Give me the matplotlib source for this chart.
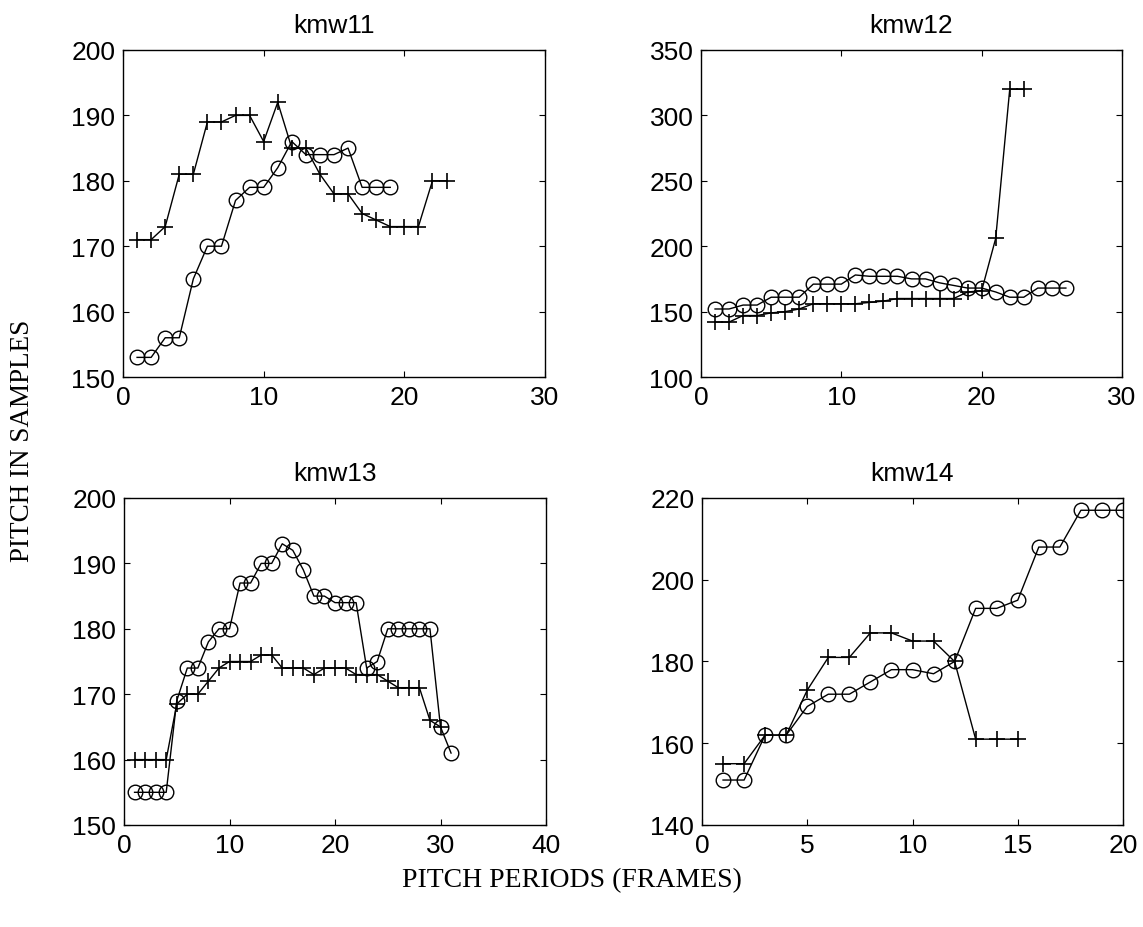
import matplotlib
matplotlib.use("Agg")
import matplotlib.pyplot as plt

# ---- data ----
titles = ["kmw11", "kmw12", "kmw13", "kmw14"]

kmw11_plus = [171, 171, 173, 181, 181, 189, 189, 190, 190, 186, 192, 185, 185,
              181, 178, 178, 175, 174, 173, 173, 173, 180, 180]
kmw11_circ = [153, 153, 156, 156, 165, 170, 170, 177, 179, 179, 182, 186, 184,
              184, 184, 185, 179, 179, 179]

kmw12_plus = [142, 142, 147, 147, 149, 150, 152, 156, 156, 156, 156, 157, 158,
              160, 160, 160, 160, 160, 165, 166, 206, 320, 320]
kmw12_circ = [152, 152, 155, 155, 161, 161, 161, 171, 171, 171, 178, 177, 177,
              177, 175, 175, 172, 170, 168, 168, 165, 161, 161, 168, 168, 168]

kmw13_plus = [160, 160, 160, 160, 168.5, 170, 170, 172, 174, 175, 175, 175, 176,
              176, 174, 174, 174, 173, 174, 174, 174, 173, 173, 173, 172, 171,
              171, 171, 166, 165]
kmw13_circ = [155, 155, 155, 155, 169, 174, 174, 178, 180, 180, 187, 187, 190,
              190, 193, 192, 189, 185, 185, 184, 184, 184, 174, 175, 180, 180,
              180, 180, 180, 165, 161]

kmw14_plus = [155, 155, 162, 162, 173, 181, 181, 187, 187, 185, 185, 180, 161,
              161, 161]
kmw14_circ = [151, 151, 162, 162, 169, 172, 172, 175, 178, 178, 177, 180, 193,
              193, 195, 208, 208, 217, 217, 217]

plus_series = [kmw11_plus, kmw12_plus, kmw13_plus, kmw14_plus]
circ_series = [kmw11_circ, kmw12_circ, kmw13_circ, kmw14_circ]

xlims = [(0, 30), (0, 30), (0, 40), (0, 20)]
xticks = [[0, 10, 20, 30], [0, 10, 20, 30], [0, 10, 20, 30, 40], [0, 5, 10, 15, 20]]
ylims = [(150, 200), (100, 350), (150, 200), (140, 220)]
yticks = [[150, 160, 170, 180, 190, 200], [100, 150, 200, 250, 300, 350],
          [150, 160, 170, 180, 190, 200], [140, 160, 180, 200, 220]]

ylabel = "PITCH IN SAMPLES"
xlabel = "PITCH PERIODS (FRAMES)"

# ---- figure ----
W, H = 1143, 928
fig = plt.figure(figsize=(W / 100, H / 100), dpi=100)

boxes = [(123, 51, 545, 378), (701, 51, 1122, 378),
         (124, 499, 546, 826), (702, 499, 1123, 826)]

sans = ["Liberation Sans", "DejaVu Sans"]
serif = ["Liberation Serif", "DejaVu Serif"]

for i in range(4):
    l, t, r, b = boxes[i]
    ax = fig.add_axes([l / W, 1 - b / H, (r - l) / W, (b - t) / H])
    yp = plus_series[i]
    yc = circ_series[i]
    ax.plot(range(1, len(yp) + 1), yp, color="black", lw=1.0,
            marker="+", markersize=11, markeredgewidth=1.2)
    ax.plot(range(1, len(yc) + 1), yc, color="black", lw=1.0,
            marker="o", markersize=10.5, fillstyle="none", markeredgewidth=1.0)
    ax.set_xlim(*xlims[i])
    ax.set_ylim(*ylims[i])
    ax.set_xticks(xticks[i])
    ax.set_yticks(yticks[i])
    ax.tick_params(direction="in", length=4, width=0.8, top=True, right=True,
                   labelsize=19)
    ax.tick_params(axis="x", pad=5.5)
    ax.tick_params(axis="y", pad=5.5)
    for lab in ax.get_xticklabels() + ax.get_yticklabels():
        lab.set_family(sans)
    for s in ax.spines.values():
        s.set_linewidth(1.0)
    ax.set_title(titles[i], fontsize=19, family=sans, pad=13)

fig.text(23 / W, 1 - 441 / H, ylabel, rotation=90, ha="center", va="center",
         fontsize=19.5, family=serif)
fig.text(572 / W, 1 - 881 / H, xlabel, ha="center", va="center",
         fontsize=20, family=serif)

fig.savefig("out.png", dpi=100, facecolor="white")
